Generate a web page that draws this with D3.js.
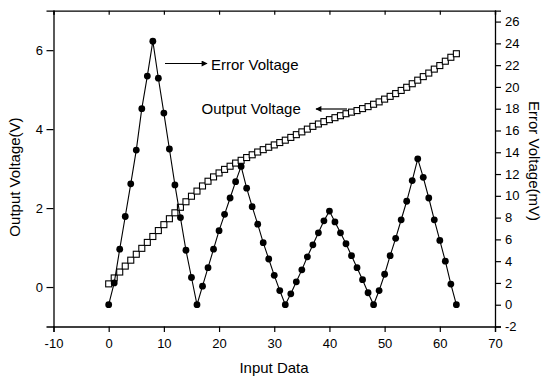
<!DOCTYPE html>
<html>
<head>
<meta charset="utf-8">
<script src="https://cdn.jsdelivr.net/npm/d3@7"></script>
<style>
  body { margin: 0; background: #fff; }
  svg { display: block; font-family: Arial, "Liberation Sans", sans-serif; }
</style>
</head>
<body>
<svg width="542" height="379"></svg>
<script>
// input codes 0..63
const inputData = d3.range(0, 64);

// Output voltage (V), left axis, open squares
const outputVoltage = [
  0.08, 0.23, 0.38, 0.53, 0.68, 0.83, 0.98, 1.13, 1.28, 1.43,
  1.58, 1.73, 1.88, 2.02, 2.16, 2.30, 2.43, 2.56, 2.68, 2.79,
  2.89, 2.98, 3.06, 3.14, 3.21, 3.28, 3.35, 3.42, 3.48, 3.54,
  3.60, 3.66, 3.72, 3.79, 3.86, 3.93, 4.00, 4.07, 4.13, 4.19,
  4.24, 4.29, 4.34, 4.39, 4.43, 4.47, 4.52, 4.57, 4.63, 4.69,
  4.76, 4.83, 4.90, 4.98, 5.06, 5.15, 5.24, 5.33, 5.42, 5.52,
  5.61, 5.72, 5.82, 5.91
];

// Error voltage (mV), right axis, filled circles
const errorVoltage = [
  0, 2.0, 5.1, 8.1, 11.1, 14.2, 18.0, 21.0, 24.2, 20.8,
  17.6, 14.3, 11.0, 8.0, 5.0, 2.5, 0, 1.7, 3.4, 5.1,
  6.8, 8.3, 9.8, 11.3, 12.7, 10.7, 9.0, 7.4, 5.7, 4.2,
  2.7, 1.3, 0, 1.0, 2.1, 3.2, 4.4, 5.5, 6.6, 7.7,
  8.6, 7.6, 6.6, 5.6, 4.5, 3.4, 2.3, 1.1, 0, 1.3,
  2.8, 4.5, 6.1, 7.8, 9.5, 11.4, 13.4, 11.7, 9.8, 7.8,
  5.9, 4.0, 1.9, 0
];

const xTicks = d3.range(-10, 71, 10);
const xMinor = d3.range(-5, 70, 10);
const leftTicks = [0, 2, 4, 6];
const leftMinor = [-1, 1, 3, 5, 7];
const rightTicks = d3.range(-2, 27, 2);
const rightMinor = d3.range(-1, 28, 2);

const svg = d3.select('svg');
svg.append('rect').attr('width', 542).attr('height', 379).attr('fill', '#fff');

const plotLeft = 53.5, plotRight = 495, plotTop = 10.7, plotBottom = 326.5;

const x = d3.scaleLinear().domain([-10, 70]).range([plotLeft, plotRight]);
const yL = d3.scaleLinear().domain([-1, 7]).range([plotBottom, plotTop]);
const yR = d3.scaleLinear().domain([-2, 27]).range([plotBottom, plotTop]);

const fmt = d => String(d); // plain hyphen minus like the original

// helper to draw axis with major + minor ticks
function drawAxis(gen, minorGen, transform) {
  const g = svg.append('g').attr('transform', transform);
  g.call(minorGen);
  g.call(gen);
  g.selectAll('.domain').attr('stroke', '#000').attr('stroke-width', 1.3);
  g.selectAll('line').attr('stroke', '#000').attr('stroke-width', 1.2);
  g.selectAll('text').attr('font-size', 13).attr('fill', '#000');
  return g;
}

// bottom
drawAxis(
  d3.axisBottom(x).tickValues(xTicks).tickSize(5.5).tickPadding(7).tickFormat(fmt),
  d3.axisBottom(x).tickValues(xMinor).tickSize(3).tickFormat(''),
  `translate(0,${plotBottom})`
);
// top (inward ticks, no labels)
drawAxis(
  d3.axisBottom(x).tickValues(xTicks).tickSize(4).tickFormat(''),
  d3.axisBottom(x).tickValues(xMinor).tickSize(3).tickFormat(''),
  `translate(0,${plotTop})`
);
// left
drawAxis(
  d3.axisLeft(yL).tickValues(leftTicks).tickSize(7).tickPadding(3.5).tickFormat(fmt),
  d3.axisLeft(yL).tickValues(leftMinor).tickSize(3.5).tickFormat(''),
  `translate(${plotLeft},0)`
);
// right
drawAxis(
  d3.axisRight(yR).tickValues(rightTicks).tickSize(6).tickPadding(4).tickFormat(fmt),
  d3.axisRight(yR).tickValues(rightMinor).tickSize(3).tickFormat(''),
  `translate(${plotRight},0)`
);

// output voltage: line + open squares
const outLine = d3.line().x((d, i) => x(inputData[i])).y(d => yL(d));
svg.append('path').datum(outputVoltage)
  .attr('d', outLine).attr('fill', 'none').attr('stroke', '#000').attr('stroke-width', 1);
svg.append('g').selectAll('rect')
  .data(outputVoltage)
  .enter().append('rect')
  .attr('x', (d, i) => x(inputData[i]) - 3)
  .attr('y', d => yL(d) - 3)
  .attr('width', 6).attr('height', 6)
  .attr('fill', '#fff').attr('stroke', '#000').attr('stroke-width', 1.1);

// error voltage: line + filled circles
const errLine = d3.line().x((d, i) => x(inputData[i])).y(d => yR(d));
svg.append('path').datum(errorVoltage)
  .attr('d', errLine).attr('fill', 'none').attr('stroke', '#000').attr('stroke-width', 1.1);
svg.append('g').selectAll('circle')
  .data(errorVoltage)
  .enter().append('circle')
  .attr('cx', (d, i) => x(inputData[i]))
  .attr('cy', d => yR(d))
  .attr('r', 3.4)
  .attr('fill', '#000');

// arrow head
svg.append('defs').append('marker')
  .attr('id', 'arrow').attr('viewBox', '0 0 10 10')
  .attr('refX', 9).attr('refY', 5)
  .attr('markerWidth', 7).attr('markerHeight', 5)
  .attr('orient', 'auto')
  .append('path').attr('d', 'M0,0 L10,5 L0,10 z').attr('fill', '#000');

// annotations
svg.append('line')
  .attr('x1', 165).attr('y1', 63.5).attr('x2', 207).attr('y2', 63.5)
  .attr('stroke', '#000').attr('stroke-width', 1.2).attr('marker-end', 'url(#arrow)');
svg.append('text').attr('x', 211).attr('y', 69.5)
  .attr('font-size', 15).text('Error Voltage');

svg.append('line')
  .attr('x1', 347).attr('y1', 109).attr('x2', 316).attr('y2', 109)
  .attr('stroke', '#000').attr('stroke-width', 1.2).attr('marker-end', 'url(#arrow)');
svg.append('text').attr('x', 201.5).attr('y', 114)
  .attr('font-size', 15).text('Output Voltage');

// axis titles
svg.append('text').attr('x', 274).attr('y', 373)
  .attr('text-anchor', 'middle').attr('font-size', 15).text('Input Data');
svg.append('text')
  .attr('transform', 'translate(20,177) rotate(-90)')
  .attr('text-anchor', 'middle').attr('font-size', 15).text('Output Voltage(V)');
svg.append('text')
  .attr('transform', 'translate(528.5,161) rotate(90)')
  .attr('text-anchor', 'middle').attr('font-size', 15).text('Error Voltage(mV)');
</script>
</body>
</html>
